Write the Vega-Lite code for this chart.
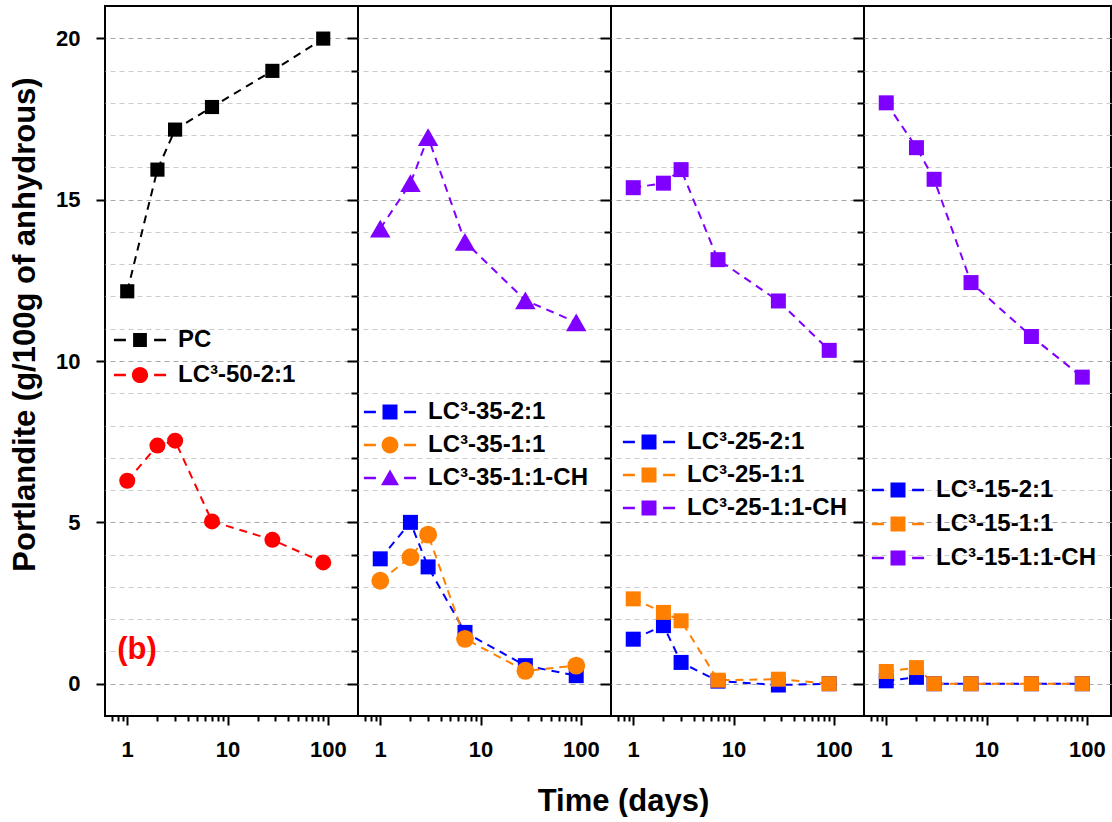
{
  "$schema": "https://vega.github.io/schema/vega-lite/v6.json",
  "padding": {"left": 8, "top": 5, "right": 0, "bottom": 0},
  "config": {
    "font": "Liberation Sans",
    "view": {"stroke": "#000000", "strokeWidth": 2},
    "axis": {"labelFont": "Liberation Sans", "titleFont": "Liberation Sans", "labelColor": "#000000", "titleColor": "#000000"}
  },
  "spacing": 0,
  "bounds": "flush",
  "resolve": {"scale": {"color": "independent", "shape": "independent", "size": "independent", "x": "independent", "y": "independent"}, "legend": {"color": "independent"}},
  "data": {"values": [
    {"panel": 1, "series": "PC", "day": 1, "value": 12.16},
    {"panel": 1, "series": "PC", "day": 2, "value": 15.93},
    {"panel": 1, "series": "PC", "day": 3, "value": 17.17},
    {"panel": 1, "series": "PC", "day": 7, "value": 17.87},
    {"panel": 1, "series": "PC", "day": 28, "value": 18.99},
    {"panel": 1, "series": "PC", "day": 90, "value": 19.99},
    {"panel": 1, "series": "LC³-50-2:1", "day": 1, "value": 6.29},
    {"panel": 1, "series": "LC³-50-2:1", "day": 2, "value": 7.38},
    {"panel": 1, "series": "LC³-50-2:1", "day": 3, "value": 7.53},
    {"panel": 1, "series": "LC³-50-2:1", "day": 7, "value": 5.03},
    {"panel": 1, "series": "LC³-50-2:1", "day": 28, "value": 4.46},
    {"panel": 1, "series": "LC³-50-2:1", "day": 90, "value": 3.76},
    {"panel": 2, "series": "LC³-35-2:1", "day": 1, "value": 3.87},
    {"panel": 2, "series": "LC³-35-2:1", "day": 2, "value": 5.0},
    {"panel": 2, "series": "LC³-35-2:1", "day": 3, "value": 3.62},
    {"panel": 2, "series": "LC³-35-2:1", "day": 7, "value": 1.59},
    {"panel": 2, "series": "LC³-35-2:1", "day": 28, "value": 0.56},
    {"panel": 2, "series": "LC³-35-2:1", "day": 90, "value": 0.25},
    {"panel": 2, "series": "LC³-35-1:1", "day": 1, "value": 3.19},
    {"panel": 2, "series": "LC³-35-1:1", "day": 2, "value": 3.92},
    {"panel": 2, "series": "LC³-35-1:1", "day": 3, "value": 4.62},
    {"panel": 2, "series": "LC³-35-1:1", "day": 7, "value": 1.39},
    {"panel": 2, "series": "LC³-35-1:1", "day": 28, "value": 0.4},
    {"panel": 2, "series": "LC³-35-1:1", "day": 90, "value": 0.56},
    {"panel": 2, "series": "LC³-35-1:1-CH", "day": 1, "value": 14.1},
    {"panel": 2, "series": "LC³-35-1:1-CH", "day": 2, "value": 15.51},
    {"panel": 2, "series": "LC³-35-1:1-CH", "day": 3, "value": 16.94},
    {"panel": 2, "series": "LC³-35-1:1-CH", "day": 7, "value": 13.69},
    {"panel": 2, "series": "LC³-35-1:1-CH", "day": 28, "value": 11.88},
    {"panel": 2, "series": "LC³-35-1:1-CH", "day": 90, "value": 11.2},
    {"panel": 3, "series": "LC³-25-2:1", "day": 1, "value": 1.38},
    {"panel": 3, "series": "LC³-25-2:1", "day": 2, "value": 1.8},
    {"panel": 3, "series": "LC³-25-2:1", "day": 3, "value": 0.66},
    {"panel": 3, "series": "LC³-25-2:1", "day": 7, "value": 0.08},
    {"panel": 3, "series": "LC³-25-2:1", "day": 28, "value": -0.04},
    {"panel": 3, "series": "LC³-25-2:1", "day": 90, "value": 0.0},
    {"panel": 3, "series": "LC³-25-1:1", "day": 1, "value": 2.63},
    {"panel": 3, "series": "LC³-25-1:1", "day": 2, "value": 2.21},
    {"panel": 3, "series": "LC³-25-1:1", "day": 3, "value": 1.95},
    {"panel": 3, "series": "LC³-25-1:1", "day": 7, "value": 0.11},
    {"panel": 3, "series": "LC³-25-1:1", "day": 28, "value": 0.14},
    {"panel": 3, "series": "LC³-25-1:1", "day": 90, "value": 0.0},
    {"panel": 3, "series": "LC³-25-1:1-CH", "day": 1, "value": 15.37},
    {"panel": 3, "series": "LC³-25-1:1-CH", "day": 2, "value": 15.51},
    {"panel": 3, "series": "LC³-25-1:1-CH", "day": 3, "value": 15.93},
    {"panel": 3, "series": "LC³-25-1:1-CH", "day": 7, "value": 13.14},
    {"panel": 3, "series": "LC³-25-1:1-CH", "day": 28, "value": 11.86},
    {"panel": 3, "series": "LC³-25-1:1-CH", "day": 90, "value": 10.33},
    {"panel": 4, "series": "LC³-15-2:1", "day": 1, "value": 0.09},
    {"panel": 4, "series": "LC³-15-2:1", "day": 2, "value": 0.2},
    {"panel": 4, "series": "LC³-15-2:1", "day": 3, "value": 0.0},
    {"panel": 4, "series": "LC³-15-2:1", "day": 7, "value": 0.0},
    {"panel": 4, "series": "LC³-15-2:1", "day": 28, "value": 0.0},
    {"panel": 4, "series": "LC³-15-2:1", "day": 90, "value": 0.0},
    {"panel": 4, "series": "LC³-15-1:1", "day": 1, "value": 0.38},
    {"panel": 4, "series": "LC³-15-1:1", "day": 2, "value": 0.5},
    {"panel": 4, "series": "LC³-15-1:1", "day": 3, "value": 0.0},
    {"panel": 4, "series": "LC³-15-1:1", "day": 7, "value": 0.0},
    {"panel": 4, "series": "LC³-15-1:1", "day": 28, "value": 0.0},
    {"panel": 4, "series": "LC³-15-1:1", "day": 90, "value": 0.0},
    {"panel": 4, "series": "LC³-15-1:1-CH", "day": 1, "value": 18.0},
    {"panel": 4, "series": "LC³-15-1:1-CH", "day": 2, "value": 16.61},
    {"panel": 4, "series": "LC³-15-1:1-CH", "day": 3, "value": 15.63},
    {"panel": 4, "series": "LC³-15-1:1-CH", "day": 7, "value": 12.43},
    {"panel": 4, "series": "LC³-15-1:1-CH", "day": 28, "value": 10.76},
    {"panel": 4, "series": "LC³-15-1:1-CH", "day": 90, "value": 9.5}
  ]},
  "hconcat": [
    {
      "width": 253, "height": 710,
      "layer": [
        {
          "transform": [{"filter": "datum.panel == 1"}],
          "mark": {"type": "line", "strokeDash": [8, 6], "strokeWidth": 2},
          "encoding": {
            "x": {"field": "day", "type": "quantitative", "scale": {"type": "log", "domain": [0.6, 200], "nice": false},
              "axis": {"values": [0.7, 0.8, 0.9, 1, 2, 3, 4, 5, 6, 7, 8, 9, 10, 20, 30, 40, 50, 60, 70, 80, 90, 100],
                "labelExpr": "datum.value == 1 ? '1' : datum.value == 10 ? '10' : datum.value == 100 ? '100' : ''",
                "labelOverlap": false, "labelFontSize": 22, "labelFontWeight": "bold", "labelPadding": 14,
                "tickSize": {"condition": {"test": "datum.value == 1 || datum.value == 10 || datum.value == 100", "value": 9}, "value": 5},
                "tickWidth": 2, "tickColor": "#000000", "domain": false, "grid": false, "title": null}},
            "y": {"field": "value", "type": "quantitative", "scale": {"domain": [-1, 21], "nice": false, "zero": false},
              "axis": {"orient": "left", "values": [0, 5, 10, 15, 20], "grid": false, "ticks": true,
                "tickSize": {"condition": {"test": "datum.value % 5 == 0", "value": 9}, "value": 9}, "tickWidth": 2, "tickColor": "#000000",
                "labelFontSize": 22, "labelFontWeight": "bold", "labelPadding": 16, "domain": false,
                "title": "Portlandite (g/100g of anhydrous)", "titleFontSize": 31, "titleFontWeight": "bold", "titleY": 318, "titleX": -64}},
            "color": {"field": "series", "type": "nominal", "scale": {"domain": ["PC", "LC³-50-2:1"], "range": ["#000000", "#ff0000"]},
              "legend": {"orient": "none", "legendX": 5, "legendY": 319, "direction": "vertical", "title": null,
                "labelFont": "Liberation Sans", "labelFontSize": 24, "labelFontWeight": "bold", "labelColor": "#000000", "labelLimit": 400,
                "labelOffset": 8, "symbolSize": 3600, "clipHeight": 30, "rowPadding": 5, "padding": 0,
                "encode": {"symbols": {"update": {
                  "shape": {"signal": "datum.value == 'PC' ? 'M-0.87,-0.045H-0.47V0.045H-0.87Z M0.47,-0.045H0.87V0.045H0.47Z M-0.23,-0.23H0.23V0.23H-0.23Z' : 'M-0.87,-0.045H-0.47V0.045H-0.87Z M0.47,-0.045H0.87V0.045H0.47Z M-0.27,0A0.27,0.27,0,1,0,0.27,0A0.27,0.27,0,1,0,-0.27,0Z'"},
                  "fill": {"signal": "datum.value == 'PC' ? '#000000' : '#ff0000'"},
                  "stroke": {"value": "transparent"}, "strokeWidth": {"value": 0}, "opacity": {"value": 1}, "fillOpacity": {"value": 1}}}}}}
          }
        },
        {
          "transform": [{"filter": "datum.panel == 1 && datum.series == 'PC'"}],
          "mark": {"type": "point", "filled": true, "opacity": 1, "shape": "square", "size": 200},
          "encoding": {
            "x": {"field": "day", "type": "quantitative", "axis": null},
            "y": {"field": "value", "type": "quantitative",
              "axis": {"orient": "right", "values": [0,1,2,3,4,5,6,7,8,9,10,11,12,13,14,15,16,17,18,19,20], "zindex": 0,
                "grid": true, "gridColor": {"condition": {"test": "datum.value % 5 == 0", "value": "#a8a8a8"}, "value": "#cccccc"}, "gridDash": [5, 4], "gridWidth": 1,
                "tickSize": {"condition": {"test": "datum.value % 5 == 0", "value": -11}, "value": -7}, "tickWidth": 2, "tickColor": "#000000",
                "labels": false, "domain": false, "title": null}},
            "color": {"field": "series", "type": "nominal"}
          }
        },
        {
          "transform": [{"filter": "datum.panel == 1 && datum.series != 'PC'"}],
          "mark": {"type": "point", "filled": true, "opacity": 1, "shape": "circle", "size": 256},
          "encoding": {
            "x": {"field": "day", "type": "quantitative", "axis": null},
            "y": {"field": "value", "type": "quantitative", "axis": null},
            "color": {"field": "series", "type": "nominal"}
          }
        },
        {
          "data": {"values": [{"label": "(b)", "day": 1.25, "value": 1.05}]},
          "mark": {"type": "text", "fontSize": 31, "fontWeight": "bold", "color": "#ff0000", "align": "center", "baseline": "middle"},
          "encoding": {
            "x": {"field": "day", "type": "quantitative", "axis": null},
            "y": {"field": "value", "type": "quantitative", "axis": null},
            "text": {"field": "label"}
          }
        }
      ],
      "resolve": {"axis": {"x": "independent", "y": "independent"}}
    },
    {
      "width": 253, "height": 710,
      "layer": [
        {
          "transform": [{"filter": "datum.panel == 2"}],
          "mark": {"type": "line", "strokeDash": [8, 6], "strokeWidth": 2},
          "encoding": {
            "x": {"field": "day", "type": "quantitative", "scale": {"type": "log", "domain": [0.6, 200], "nice": false},
              "axis": {"values": [0.7, 0.8, 0.9, 1, 2, 3, 4, 5, 6, 7, 8, 9, 10, 20, 30, 40, 50, 60, 70, 80, 90, 100],
                "labelExpr": "datum.value == 1 ? '1' : datum.value == 10 ? '10' : datum.value == 100 ? '100' : ''",
                "labelOverlap": false, "labelFontSize": 22, "labelFontWeight": "bold", "labelPadding": 14,
                "tickSize": {"condition": {"test": "datum.value == 1 || datum.value == 10 || datum.value == 100", "value": 9}, "value": 5},
                "tickWidth": 2, "tickColor": "#000000", "domain": false, "grid": false,
                "title": "Time (days)", "titleFontSize": 31, "titleFontWeight": "bold", "titleX": 265, "titleY": 70, "titleBaseline": "top"}},
            "y": {"field": "value", "type": "quantitative", "scale": {"domain": [-1, 21], "nice": false, "zero": false}, "axis": null},
            "color": {"field": "series", "type": "nominal", "scale": {"domain": ["LC³-35-2:1", "LC³-35-1:1", "LC³-35-1:1-CH"], "range": ["#0000ff", "#ff8000", "#8000ff"]},
              "legend": {"orient": "none", "legendX": 2, "legendY": 391, "direction": "vertical", "title": null,
                "labelFont": "Liberation Sans", "labelFontSize": 24, "labelFontWeight": "bold", "labelColor": "#000000", "labelLimit": 400,
                "labelOffset": 8, "symbolSize": 3600, "clipHeight": 30, "rowPadding": 3, "padding": 0,
                "encode": {"symbols": {"update": {
                  "shape": {"signal": "datum.value == 'LC³-35-2:1' ? 'M-0.87,-0.045H-0.47V0.045H-0.87Z M0.47,-0.045H0.87V0.045H0.47Z M-0.25,-0.25H0.25V0.25H-0.25Z' : datum.value == 'LC³-35-1:1' ? 'M-0.87,-0.045H-0.47V0.045H-0.87Z M0.47,-0.045H0.87V0.045H0.47Z M-0.28,0A0.28,0.28,0,1,0,0.28,0A0.28,0.28,0,1,0,-0.28,0Z' : 'M-0.87,-0.045H-0.47V0.045H-0.87Z M0.47,-0.045H0.87V0.045H0.47Z M0,-0.28L0.3,0.24L-0.3,0.24Z'"},
                  "fill": {"signal": "datum.value == 'LC³-35-2:1' ? '#0000ff' : datum.value == 'LC³-35-1:1' ? '#ff8000' : '#8000ff'"},
                  "stroke": {"value": "transparent"}, "strokeWidth": {"value": 0}, "opacity": {"value": 1}, "fillOpacity": {"value": 1}}}}}}
          }
        },
        {
          "transform": [{"filter": "datum.panel == 2 && datum.series == 'LC³-35-2:1'"}],
          "mark": {"type": "point", "filled": true, "opacity": 1, "shape": "square", "size": 225},
          "encoding": {
            "x": {"field": "day", "type": "quantitative", "axis": null},
            "y": {"field": "value", "type": "quantitative",
              "axis": {"orient": "right", "values": [0,1,2,3,4,5,6,7,8,9,10,11,12,13,14,15,16,17,18,19,20], "zindex": 0,
                "grid": true, "gridColor": {"condition": {"test": "datum.value % 5 == 0", "value": "#a8a8a8"}, "value": "#cccccc"}, "gridDash": [5, 4], "gridWidth": 1,
                "tickSize": {"condition": {"test": "datum.value % 5 == 0", "value": -11}, "value": -7}, "tickWidth": 2, "tickColor": "#000000",
                "labels": false, "domain": false, "title": null}},
            "color": {"field": "series", "type": "nominal"}
          }
        },
        {
          "transform": [{"filter": "datum.panel == 2 && datum.series == 'LC³-35-1:1'"}],
          "mark": {"type": "point", "filled": true, "opacity": 1, "shape": "circle", "size": 320},
          "encoding": {
            "x": {"field": "day", "type": "quantitative", "axis": null},
            "y": {"field": "value", "type": "quantitative", "axis": null},
            "color": {"field": "series", "type": "nominal"}
          }
        },
        {
          "transform": [{"filter": "datum.panel == 2 && datum.series == 'LC³-35-1:1-CH'"}],
          "mark": {"type": "point", "filled": true, "opacity": 1, "shape": "triangle-up", "size": 420},
          "encoding": {
            "x": {"field": "day", "type": "quantitative", "axis": null},
            "y": {"field": "value", "type": "quantitative", "axis": null},
            "color": {"field": "series", "type": "nominal"}
          }
        }
      ],
      "resolve": {"axis": {"x": "independent", "y": "independent"}}
    },
    {
      "width": 253, "height": 710,
      "layer": [
        {
          "transform": [{"filter": "datum.panel == 3"}],
          "mark": {"type": "line", "strokeDash": [8, 6], "strokeWidth": 2},
          "encoding": {
            "x": {"field": "day", "type": "quantitative", "scale": {"type": "log", "domain": [0.6, 200], "nice": false},
              "axis": {"values": [0.7, 0.8, 0.9, 1, 2, 3, 4, 5, 6, 7, 8, 9, 10, 20, 30, 40, 50, 60, 70, 80, 90, 100],
                "labelExpr": "datum.value == 1 ? '1' : datum.value == 10 ? '10' : datum.value == 100 ? '100' : ''",
                "labelOverlap": false, "labelFontSize": 22, "labelFontWeight": "bold", "labelPadding": 14,
                "tickSize": {"condition": {"test": "datum.value == 1 || datum.value == 10 || datum.value == 100", "value": 9}, "value": 5},
                "tickWidth": 2, "tickColor": "#000000", "domain": false, "grid": false, "title": null}},
            "y": {"field": "value", "type": "quantitative", "scale": {"domain": [-1, 21], "nice": false, "zero": false}, "axis": null},
            "color": {"field": "series", "type": "nominal", "scale": {"domain": ["LC³-25-2:1", "LC³-25-1:1", "LC³-25-1:1-CH"], "range": ["#0000ff", "#ff8000", "#8000ff"]},
              "legend": {"orient": "none", "legendX": 8, "legendY": 421, "direction": "vertical", "title": null,
                "labelFont": "Liberation Sans", "labelFontSize": 24, "labelFontWeight": "bold", "labelColor": "#000000", "labelLimit": 400,
                "labelOffset": 8, "symbolSize": 3600, "clipHeight": 30, "rowPadding": 3, "padding": 0,
                "encode": {"symbols": {"update": {
                  "shape": {"value": "M-0.87,-0.045H-0.47V0.045H-0.87Z M0.47,-0.045H0.87V0.045H0.47Z M-0.25,-0.25H0.25V0.25H-0.25Z"},
                  "fill": {"signal": "datum.value == 'LC³-25-2:1' ? '#0000ff' : datum.value == 'LC³-25-1:1' ? '#ff8000' : '#8000ff'"},
                  "stroke": {"value": "transparent"}, "strokeWidth": {"value": 0}, "opacity": {"value": 1}, "fillOpacity": {"value": 1}}}}}}
          }
        },
        {
          "transform": [{"filter": "datum.panel == 3"}],
          "mark": {"type": "point", "filled": true, "opacity": 1, "shape": "square", "size": 225},
          "encoding": {
            "x": {"field": "day", "type": "quantitative", "axis": null},
            "y": {"field": "value", "type": "quantitative",
              "axis": {"orient": "right", "values": [0,1,2,3,4,5,6,7,8,9,10,11,12,13,14,15,16,17,18,19,20], "zindex": 0,
                "grid": true, "gridColor": {"condition": {"test": "datum.value % 5 == 0", "value": "#a8a8a8"}, "value": "#cccccc"}, "gridDash": [5, 4], "gridWidth": 1,
                "tickSize": {"condition": {"test": "datum.value % 5 == 0", "value": -11}, "value": -7}, "tickWidth": 2, "tickColor": "#000000",
                "labels": false, "domain": false, "title": null}},
            "color": {"field": "series", "type": "nominal"}
          }
        }
      ],
      "resolve": {"axis": {"x": "independent", "y": "independent"}}
    },
    {
      "width": 247, "height": 710,
      "layer": [
        {
          "transform": [{"filter": "datum.panel == 4"}],
          "mark": {"type": "line", "strokeDash": [8, 6], "strokeWidth": 2},
          "encoding": {
            "x": {"field": "day", "type": "quantitative", "scale": {"type": "log", "domain": [0.6, 174], "nice": false},
              "axis": {"values": [0.7, 0.8, 0.9, 1, 2, 3, 4, 5, 6, 7, 8, 9, 10, 20, 30, 40, 50, 60, 70, 80, 90, 100],
                "labelExpr": "datum.value == 1 ? '1' : datum.value == 10 ? '10' : datum.value == 100 ? '100' : ''",
                "labelOverlap": false, "labelFontSize": 22, "labelFontWeight": "bold", "labelPadding": 14,
                "tickSize": {"condition": {"test": "datum.value == 1 || datum.value == 10 || datum.value == 100", "value": 9}, "value": 5},
                "tickWidth": 2, "tickColor": "#000000", "domain": false, "grid": false, "title": null}},
            "y": {"field": "value", "type": "quantitative", "scale": {"domain": [-1, 21], "nice": false, "zero": false}, "axis": null},
            "color": {"field": "series", "type": "nominal", "scale": {"domain": ["LC³-15-2:1", "LC³-15-1:1", "LC³-15-1:1-CH"], "range": ["#0000ff", "#ff8000", "#8000ff"]},
              "legend": {"orient": "none", "legendX": 4, "legendY": 469, "direction": "vertical", "title": null,
                "labelFont": "Liberation Sans", "labelFontSize": 24, "labelFontWeight": "bold", "labelColor": "#000000", "labelLimit": 400,
                "labelOffset": 8, "symbolSize": 3600, "clipHeight": 30, "rowPadding": 4, "padding": 0,
                "encode": {"symbols": {"update": {
                  "shape": {"value": "M-0.87,-0.045H-0.47V0.045H-0.87Z M0.47,-0.045H0.87V0.045H0.47Z M-0.25,-0.25H0.25V0.25H-0.25Z"},
                  "fill": {"signal": "datum.value == 'LC³-15-2:1' ? '#0000ff' : datum.value == 'LC³-15-1:1' ? '#ff8000' : '#8000ff'"},
                  "stroke": {"value": "transparent"}, "strokeWidth": {"value": 0}, "opacity": {"value": 1}, "fillOpacity": {"value": 1}}}}}}
          }
        },
        {
          "transform": [{"filter": "datum.panel == 4"}],
          "mark": {"type": "point", "filled": true, "opacity": 1, "shape": "square", "size": 225},
          "encoding": {
            "x": {"field": "day", "type": "quantitative", "axis": null},
            "y": {"field": "value", "type": "quantitative",
              "axis": {"orient": "right", "values": [0,1,2,3,4,5,6,7,8,9,10,11,12,13,14,15,16,17,18,19,20], "zindex": 0,
                "grid": true, "gridColor": {"condition": {"test": "datum.value % 5 == 0", "value": "#a8a8a8"}, "value": "#cccccc"}, "gridDash": [5, 4], "gridWidth": 1,
                "ticks": false, "labels": false, "domain": false, "title": null}},
            "color": {"field": "series", "type": "nominal"}
          }
        }
      ],
      "resolve": {"axis": {"x": "independent", "y": "independent"}}
    }
  ]
}
